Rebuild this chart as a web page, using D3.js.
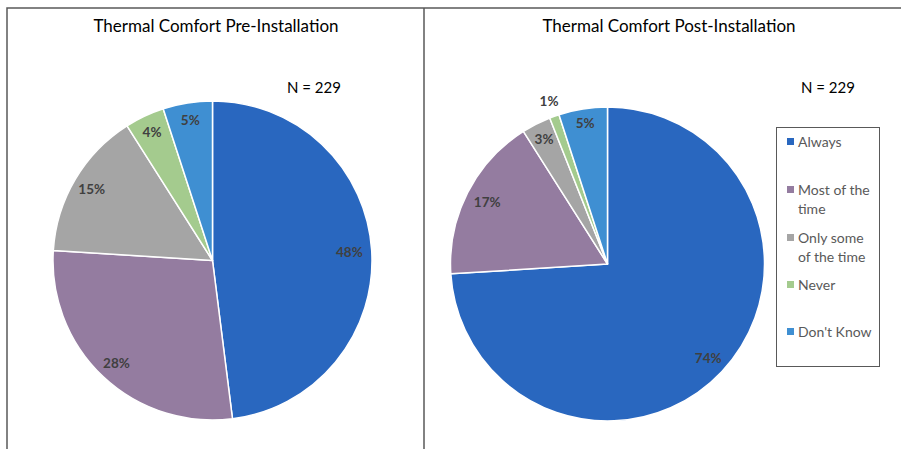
<!DOCTYPE html>
<html lang="en">
<head>
<meta charset="UTF-8">
<title>Thermal Comfort</title>
<script src="https://d3js.org/d3.v7.min.js"></script>
<style>
  body { margin: 0; background: #fff; }
  svg { display: block; font-family: Lato, "Open Sans", sans-serif; }
</style>
</head>
<body>
<svg width="901" height="449"></svg>
<script>
// data
const categories = ["Always", "Most of the time", "Only some of the time", "Never", "Don't Know"];
const legendLines = [["Always"], ["Most of the", "time"], ["Only some", "of the time"], ["Never"], ["Don't Know"]];
const colors = ["#2967bf", "#947ca0", "#a5a5a5", "#a4cb8e", "#3f8fd2"];
const preValues = [48, 28, 15, 4, 5];
const postValues = [74, 17, 3, 1, 5];
const sampleSize = 229;

const svg = d3.select("svg");

// frame lines
svg.append("path")
  .attr("d", "M7,449 V8 H901 M424,8 V449")
  .attr("fill", "none")
  .attr("stroke", "#595959")
  .attr("stroke-width", 1.5);

const pie = d3.pie().sort(null).value(d => d);

function drawPie(values, cx, cy, r, title, titleX, nX, labelRadius) {
  const g = svg.append("g").attr("transform", `translate(${cx},${cy})`);
  const arc = d3.arc().innerRadius(0).outerRadius(r);
  const arcs = pie(values);

  g.selectAll("path")
    .data(arcs)
    .enter()
    .append("path")
    .attr("d", arc)
    .attr("fill", (d, i) => colors[i])
    .attr("stroke", "#fff")
    .attr("stroke-width", 1.5)
    .attr("stroke-linejoin", "round");

  g.selectAll("text.lbl")
    .data(arcs)
    .enter()
    .append("text")
    .attr("class", "lbl")
    .attr("transform", (d, i) => {
      const lr = r * labelRadius[i];
      const c = d3.arc().innerRadius(lr).outerRadius(lr).centroid(d);
      return `translate(${c})`;
    })
    .attr("text-anchor", "middle")
    .attr("dy", "0.35em")
    .attr("font-size", 13.5)
    .attr("font-weight", "bold")
    .attr("fill", "#404040")
    .text(d => d.data + "%");

  svg.append("text")
    .attr("x", titleX).attr("y", 32)
    .attr("text-anchor", "middle")
    .attr("font-size", 17)
    .attr("fill", "#000")
    .text(title);

  svg.append("text")
    .attr("x", nX).attr("y", 93)
    .attr("text-anchor", "middle")
    .attr("font-size", 15)
    .attr("fill", "#000")
    .text("N = " + sampleSize);
}

drawPie(preValues, 212.5, 260.5, 159.5, "Thermal Comfort Pre-Installation", 216, 314,
  [0.86, 0.88, 0.88, 0.89, 0.89]);
drawPie(postValues, 607.5, 264, 157, "Thermal Comfort Post-Installation", 669, 828,
  [0.88, 0.86, 0.89, 1.1, 0.91]);

// legend
const legend = svg.append("g");
legend.append("rect")
  .attr("x", 776.5).attr("y", 127.5)
  .attr("width", 103).attr("height", 239)
  .attr("fill", "#fff")
  .attr("stroke", "#595959")
  .attr("stroke-width", 1);

const itemY = [142, 190, 238, 285, 332];
const item = legend.selectAll("g.item")
  .data(categories)
  .enter()
  .append("g")
  .attr("class", "item")
  .attr("transform", (d, i) => `translate(787,${itemY[i]})`);

item.append("rect")
  .attr("x", 0).attr("y", -4)
  .attr("width", 7).attr("height", 7)
  .attr("fill", (d, i) => colors[i]);

item.each(function (d, i) {
  const t = d3.select(this).append("text")
    .attr("x", 11).attr("y", 0)
    .attr("font-size", 14)
    .attr("fill", "#595959");
  legendLines[i].forEach((line, j) => {
    t.append("tspan").attr("x", 11).attr("dy", j === 0 ? "0.35em" : 19).text(line);
  });
});
</script>
</body>
</html>
